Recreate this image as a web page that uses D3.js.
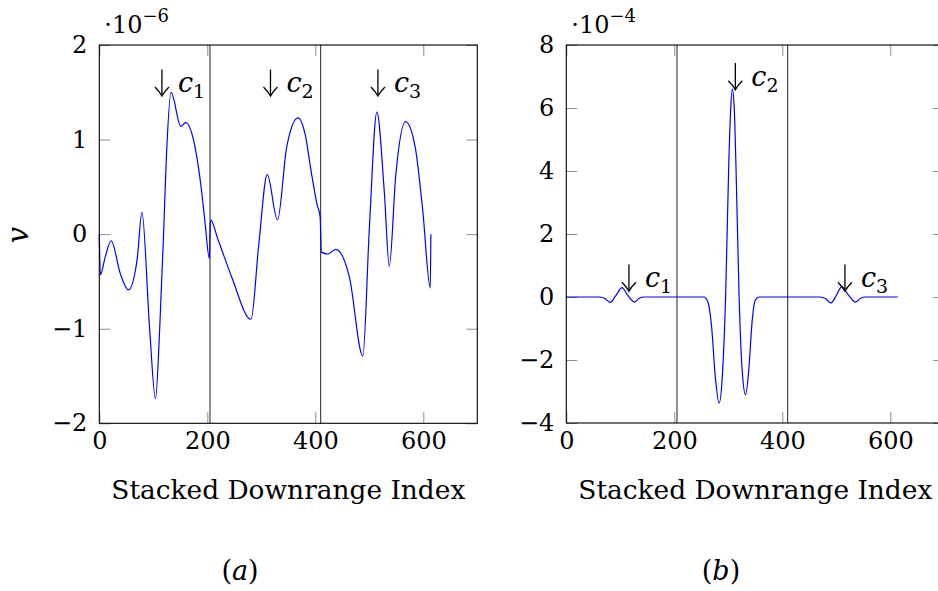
<!DOCTYPE html>
<html>
<head>
<meta charset="utf-8">
<script src="https://cdn.jsdelivr.net/npm/d3@7"></script>
<style>
  body { margin: 0; background: #fff; }
  svg text { font-family: "DejaVu Serif", serif; fill: #000; }
</style>
</head>
<body>
<div id="chart"></div>
<script>
// panel (a): index / value (x 1e-6)
const indexA = [0, 2, 11, 22, 39, 54, 70, 79, 93, 104, 112, 119, 124, 133, 151, 160, 178, 190, 196, 204,
  205, 206, 220, 245, 281, 295, 311, 330, 347, 368, 381, 393, 403, 409,
  410, 411, 423, 438, 463, 488, 500, 514, 528, 537, 549, 567, 585, 599, 613, 614];
const valueA = [0, -0.43, -0.24, -0.07, -0.42, -0.59, -0.27, 0.23, -0.98, -1.74, -0.98, 0, 0.78, 1.50, 1.14, 1.18, 0.90, 0.43, 0.11, -0.26,
  0, 0.15, -0.06, -0.45, -0.90, -0.13, 0.63, 0.15, 0.92, 1.23, 1.06, 0.64, 0.32, 0.18,
  0, -0.19, -0.21, -0.16, -0.45, -1.29, 0.05, 1.29, 0.43, -0.34, 0.62, 1.19, 0.92, 0.25, -0.57, 0];

// panel (b): index / value (x 1e-4)
const indexB = [0, 60, 70, 81, 92, 103, 114, 126, 135, 145,
  255, 262, 269, 276, 283, 289, 295, 301, 304.5, 307.5, 311, 314, 320, 326, 332, 338, 344, 350, 357,
  470, 480, 490, 500, 510, 523, 536, 545, 555, 614];
const valueB = [0, 0, -0.03, -0.17, 0.05, 0.30, 0.05, -0.16, -0.04, 0,
  0, -0.15, -0.93, -2.55, -3.37, -2.5, 0, 4.3, 6.0, 6.6, 6.0, 4.3, 0, -2.4, -3.10, -2.3, -0.8, -0.1, 0,
  0, -0.05, -0.19, 0.05, 0.32, 0.05, -0.16, -0.04, 0, 0];

const xTicks = [0, 200, 400, 600];
const yTicksA = [-2, -1, 0, 1, 2];
const yTicksB = [-4, -2, 0, 2, 4, 6, 8];
const sectionBreaks = [205, 410];
const xLabel = "Stacked Downrange Index";

const width = 938, height = 591;
const serif = "'DejaVu Serif', serif";

const svg = d3.select("#chart").append("svg")
  .attr("width", width)
  .attr("height", height);

function drawPanel(p) {
  const x = d3.scaleLinear().domain([0, 700]).range([p.left, p.right]);
  const y = d3.scaleLinear().domain(p.yDomain).range([p.bottom, p.top]);
  const g = svg.append("g");

  // ticks (inside, mirrored on all four sides)
  const tickLen = 11;
  const axes = [
    [d3.axisBottom(x).tickValues(xTicks), p.bottom, "x"],
    [d3.axisTop(x).tickValues(xTicks).tickFormat(""), p.top, "x"],
    [d3.axisLeft(y).tickValues(p.yTicks).tickFormat(d3.format("d")), p.left, "y"],
    [d3.axisRight(y).tickValues(p.yTicks).tickFormat(""), p.right, "y"]
  ];
  axes.forEach(([ax, pos, dir]) => {
    const a = g.append("g")
      .attr("transform", dir === "x" ? `translate(0,${pos})` : `translate(${pos},0)`)
      .call(ax.tickSizeInner(-tickLen).tickSizeOuter(0).tickPadding(dir === "x" ? 9 : 12))
      .attr("font-family", serif)
      .attr("font-size", 24);
    a.select(".domain").remove();
    a.selectAll(".tick line").attr("stroke", "#8c8c8c").attr("stroke-width", 1);
  });

  // section dividers
  g.selectAll(".brk").data(sectionBreaks).enter().append("line")
    .attr("x1", d => x(d)).attr("x2", d => x(d))
    .attr("y1", p.top).attr("y2", p.bottom)
    .attr("stroke", "#222").attr("stroke-width", 1);

  // curve
  const pts = p.index.map((d, i) => [d, p.value[i]]);
  const line = d3.line()
    .x(d => x(d[0]))
    .y(d => y(d[1]))
    .curve(d3.curveMonotoneX);
  g.append("path")
    .datum(pts)
    .attr("fill", "none")
    .attr("stroke", "#0000ff")
    .attr("stroke-width", 1.2)
    .attr("d", line);

  // box
  g.append("rect")
    .attr("x", p.left).attr("y", p.top)
    .attr("width", p.right - p.left).attr("height", p.bottom - p.top)
    .attr("fill", "none").attr("stroke", "#000").attr("stroke-width", 1.1);

  // arrows with c_i labels
  p.marks.forEach(m => {
    const ax = x(m.at), y0 = y(m.top), y1 = y(m.bottom);
    g.append("line")
      .attr("x1", ax).attr("x2", ax).attr("y1", y0).attr("y2", y1)
      .attr("stroke", "#000").attr("stroke-width", 1.3);
    g.append("path")
      .attr("d", `M${ax - 7},${y1 - 9} Q${ax - 2},${y1 - 4} ${ax},${y1} Q${ax + 2},${y1 - 4} ${ax + 7},${y1 - 9}`)
      .attr("fill", "none").attr("stroke", "#000").attr("stroke-width", 1.3);
    const t = g.append("text")
      .attr("x", ax + 16).attr("y", y1 - 4)
      .style("font-size", "27px");
    t.append("tspan").style("font-style", "italic").text("c");
    t.append("tspan").attr("dy", 6).style("font-size", "19px").text(m.label);
  });

  // exponent label
  const e = g.append("text")
    .attr("x", p.left + 5).attr("y", p.top - 12)
    .style("font-size", "24px");
  e.append("tspan").text("·10");
  e.append("tspan").attr("dy", -11).style("font-size", "18px").text(p.exponent);

  // x label
  g.append("text")
    .attr("x", (p.left + p.right) / 2).attr("y", p.bottom + 76)
    .attr("text-anchor", "middle")
    .attr("textLength", 354).attr("lengthAdjust", "spacingAndGlyphs")
    .style("font-size", "26px")
    .text(xLabel);

  // caption: upright parentheses, italic letter
  const c = g.append("text")
    .attr("x", p.captionX).attr("y", 580)
    .attr("text-anchor", "middle")
    .style("font-size", "27px");
  c.append("tspan").text("(");
  c.append("tspan").style("font-style", "italic").text(p.caption);
  c.append("tspan").text(")");
}

drawPanel({
  left: 99.3, right: 477.3, top: 45, bottom: 423.3,
  yDomain: [-2, 2], yTicks: yTicksA,
  index: indexA, value: valueA,
  exponent: "−6",
  captionX: 240, caption: "a",
  marks: [
    { at: 116, top: 1.74, bottom: 1.46, label: "1" },
    { at: 317, top: 1.74, bottom: 1.46, label: "2" },
    { at: 516, top: 1.74, bottom: 1.46, label: "3" }
  ]
});

drawPanel({
  left: 566.3, right: 944.3, top: 45, bottom: 423,
  yDomain: [-4, 8], yTicks: yTicksB,
  index: indexB, value: valueB,
  exponent: "−4",
  captionX: 721, caption: "b",
  marks: [
    { at: 116, top: 1.03, bottom: 0.18, label: "1" },
    { at: 313, top: 7.43, bottom: 6.58, label: "2" },
    { at: 516, top: 1.03, bottom: 0.18, label: "3" }
  ]
});

// y label
svg.append("text")
  .attr("transform", "translate(28,235) rotate(-90)")
  .attr("text-anchor", "middle")
  .style("font-size", "29px")
  .style("font-style", "italic")
  .text("v");
</script>
</body>
</html>
